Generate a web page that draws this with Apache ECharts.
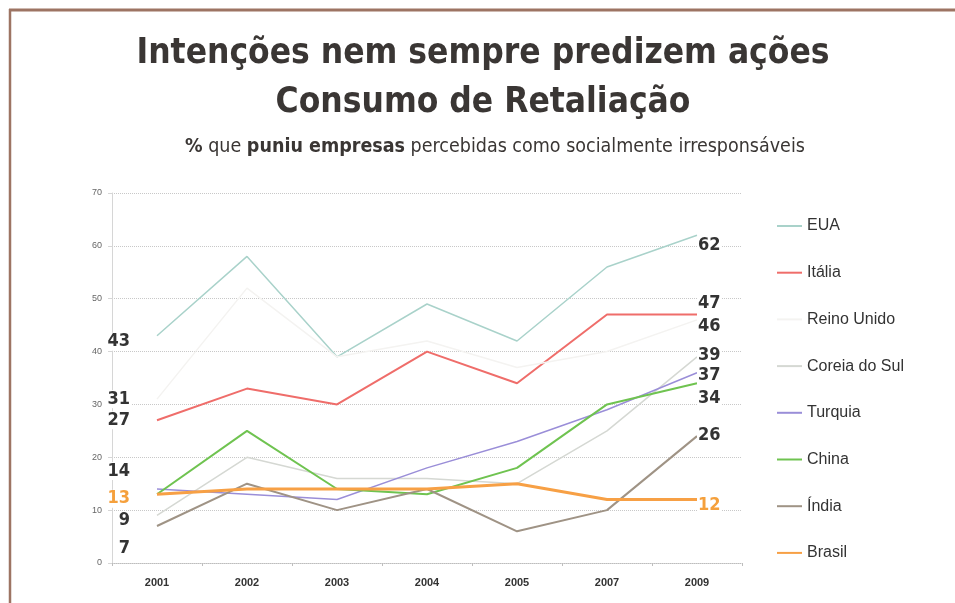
<!DOCTYPE html>
<html>
<head>
<meta charset="utf-8">
<script src="https://cdn.jsdelivr.net/npm/echarts@6/dist/echarts.min.js"></script>
<style>
  html, body { margin: 0; padding: 0; background: #fff; }
  #chart { width: 955px; height: 603px; }
</style>
</head>
<body>
<div id="chart"></div>
<script>
const years = ['2001', '2002', '2003', '2004', '2005', '2007', '2009']
const countries = ['EUA', 'Itália', 'Reino Unido', 'Coreia do Sul', 'Turquia', 'China', 'Índia', 'Brasil']

const eua = [43, 58, 39, 49, 42, 56, 62]
const italia = [27, 33, 30, 40, 34, 47, 47]
const reinoUnido = [31, 52, 39, 42, 37, 40, 46]
const coreiaDoSul = [9, 20, 16, 16, 15, 25, 39]
const turquia = [14, 13, 12, 18, 23, 29, 36]
const china = [13, 25, 14, 13, 18, 30, 34]
const india = [7, 15, 10, 14, 6, 10, 24]
const brasil = [13, 14, 14, 14, 15, 12, 12]

// texts printed at both ends of each line
const startLabels = ['43', '27', '31', '9', '14', '', '7', '13']
const endLabels = ['62', '47', '46', '39', '37', '34', '26', '12']

const values = [eua, italia, reinoUnido, coreiaDoSul, turquia, china, india, brasil]
const colors = ['#a9d2ca', '#ef6d6a', '#f4f3f1', '#d5d8d3', '#9a8ed8', '#6fc350', '#9f9385', '#f7a045']
const widths = [1.5, 2, 1.5, 1.5, 1.5, 2, 2, 3]
// vertical nudges of the end labels
const startDy = [6, 0, 0, 5, -18, 0, 22, 4.5]
const endDy = [10, -11, 6, -2, 3, 15, -1, 6]

const narrow = '"DejaVu Sans Condensed", "Liberation Sans", sans-serif'
const plain = '"Liberation Sans", sans-serif'
const darkText = '#333'

const chart = echarts.init(document.getElementById('chart'))

const series = countries.map(function(name, k) {
  const last = values[k].length - 1
  const labelColor = name === 'Brasil' ? '#f5a03c' : darkText
  const baseLabel = {
    show: true,
    fontFamily: narrow,
    fontWeight: 'bold',
    fontSize: 18,
    color: labelColor,
    backgroundColor: '#fff',
    padding: [0, 1]
  }
  return {
    name: name,
    type: 'line',
    symbol: 'circle',
    symbolSize: 0,
    showSymbol: true,
    silent: true,
    lineStyle: { color: colors[k], width: widths[k] },
    itemStyle: { color: colors[k] },
    emphasis: { disabled: true },
    label: { show: false },
    data: values[k].map(function(v, i) {
      if (i === 0 && startLabels[k]) {
        return {
          value: v,
          label: Object.assign({}, baseLabel, {
            position: 'left', distance: 26, offset: [0, startDy[k]],
            formatter: startLabels[k]
          })
        }
      }
      if (i === last) {
        return {
          value: v,
          label: Object.assign({}, baseLabel, {
            position: 'right', distance: 0, offset: [0, endDy[k]],
            formatter: endLabels[k]
          })
        }
      }
      return v
    })
  }
})

chart.setOption({
  backgroundColor: '#fff',
  animation: false,
  title: [{
    text: 'Intenções nem sempre predizem ações\nConsumo de Retaliação',
    left: 478,
    top: 24,
    textAlign: 'center',
    textStyle: {
      fontFamily: narrow,
      fontWeight: 'bold',
      fontSize: 35,
      lineHeight: 49,
      color: '#3a3634'
    }
  }, {
    text: '{b|%} que {b|puniu empresas} percebidas como socialmente irresponsáveis',
    left: 490,
    top: 132,
    textAlign: 'center',
    textStyle: {
      fontFamily: narrow,
      fontWeight: 'normal',
      fontSize: 19.5,
      color: '#3a3634',
      rich: {
        b: { fontFamily: narrow, fontSize: 19.5, fontWeight: 'bold', color: '#3a3634' }
      }
    }
  }],
  legend: {
    orient: 'vertical',
    left: 777,
    top: 218,
    padding: 0,
    icon: 'rect',
    itemWidth: 25,
    itemHeight: 2,
    itemGap: 30.7,
    selectedMode: false,
    data: countries,
    textStyle: {
      fontFamily: plain,
      fontSize: 16,
      lineHeight: 16,
      color: darkText
    }
  },
  grid: {
    left: 112,
    right: 213,
    top: 193,
    bottom: 40
  },
  xAxis: {
    type: 'category',
    data: years,
    boundaryGap: true,
    axisLine: { show: true, lineStyle: { color: '#bdbdbd', type: 'dotted' } },
    axisTick: { show: true, length: 3, lineStyle: { color: '#bdbdbd' } },
    axisLabel: {
      margin: 14,
      fontFamily: plain,
      fontWeight: 'bold',
      fontSize: 11,
      color: darkText
    }
  },
  yAxis: {
    type: 'value',
    min: 0,
    max: 70,
    interval: 10,
    axisLine: { show: true, lineStyle: { color: '#d6d6d6' } },
    axisTick: { show: true, length: 4, lineStyle: { color: '#d6d6d6' } },
    axisLabel: {
      margin: 10,
      fontFamily: plain,
      fontSize: 9,
      color: '#666'
    },
    splitLine: { show: true, lineStyle: { color: '#c8c8c8', type: 'dotted' } }
  },
  graphic: [{
    type: 'line',
    shape: { x1: 9, y1: 10, x2: 955, y2: 10 },
    style: { stroke: '#9d7463', lineWidth: 3 },
    silent: true
  }, {
    type: 'line',
    shape: { x1: 10, y1: 9, x2: 10, y2: 603 },
    style: { stroke: '#9d7463', lineWidth: 2.5 },
    silent: true
  }],
  series: series
})
</script>
</body>
</html>
